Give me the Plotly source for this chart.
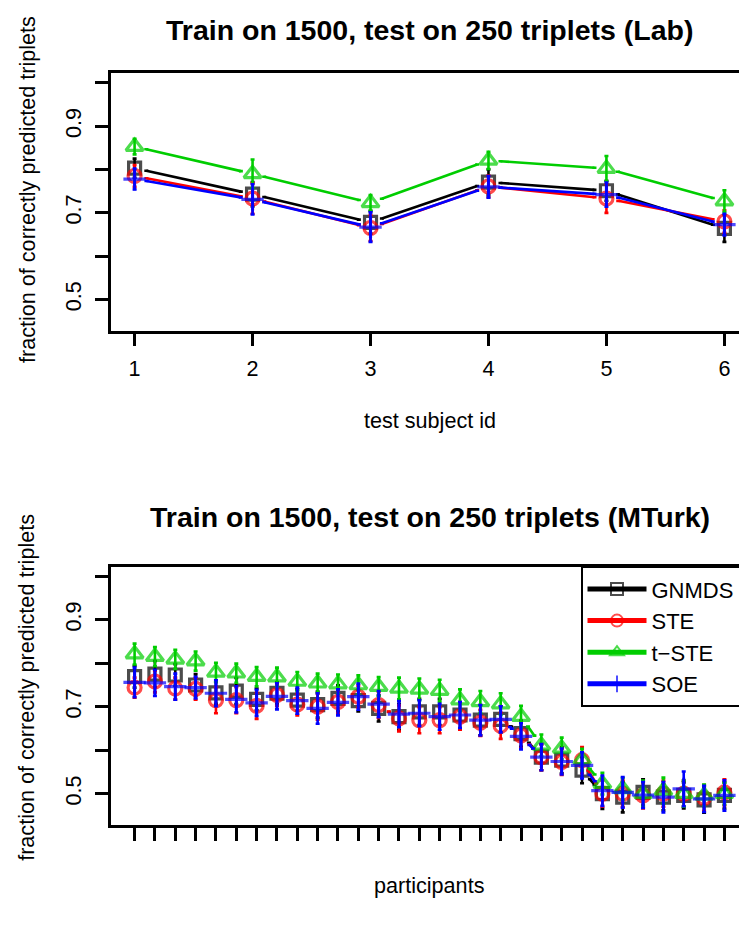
import plotly.graph_objects as go
import math

# ---------------- data ----------------
lab_ids = [1, 2, 3, 4, 5, 6]
lab_gnmds = [0.803, 0.743, 0.678, 0.771, 0.751, 0.664]
lab_ste = [0.785, 0.733, 0.665, 0.761, 0.733, 0.680]
lab_tste = [0.853, 0.790, 0.723, 0.821, 0.802, 0.727]
lab_soe = [0.778, 0.731, 0.667, 0.760, 0.742, 0.673]
lab_gnmds_err = [0.022, 0.028, 0.026, 0.029, 0.023, 0.031]
lab_ste_err = [0.025, 0.035, 0.030, 0.025, 0.033, 0.026]
lab_tste_err = [0.018, 0.033, 0.018, 0.020, 0.029, 0.025]
lab_soe_err = [0.024, 0.035, 0.034, 0.025, 0.028, 0.025]

mt_ids = list(range(1, 31))
mt_gnmds = [0.769, 0.775, 0.773, 0.750, 0.732, 0.736, 0.717, 0.731, 0.715, 0.705,
            0.719, 0.714, 0.696, 0.677, 0.688, 0.688, 0.681, 0.669, 0.671, 0.638,
            0.584, 0.577, 0.554, 0.500, 0.492, 0.503, 0.492, 0.496, 0.486, 0.496]
mt_ste = [0.744, 0.758, 0.742, 0.741, 0.715, 0.715, 0.702, 0.727, 0.705, 0.700,
          0.711, 0.723, 0.704, 0.673, 0.669, 0.669, 0.677, 0.663, 0.656, 0.634,
          0.584, 0.573, 0.577, 0.500, 0.500, 0.496, 0.500, 0.500, 0.490, 0.503]
mt_tste = [0.821, 0.815, 0.809, 0.805, 0.779, 0.777, 0.769, 0.768, 0.758, 0.754,
           0.752, 0.750, 0.746, 0.742, 0.740, 0.737, 0.715, 0.711, 0.706, 0.677,
           0.611, 0.604, 0.578, 0.523, 0.511, 0.500, 0.507, 0.500, 0.496, 0.500]
mt_soe = [0.756, 0.755, 0.746, 0.744, 0.731, 0.717, 0.709, 0.724, 0.714, 0.696,
          0.710, 0.723, 0.706, 0.683, 0.685, 0.677, 0.681, 0.669, 0.671, 0.632,
          0.584, 0.574, 0.565, 0.507, 0.503, 0.497, 0.492, 0.511, 0.488, 0.496]
mt_gnmds_err = [0.025, 0.030, 0.025, 0.025, 0.025, 0.030, 0.025, 0.025, 0.025, 0.030,
                0.030, 0.025, 0.030, 0.030, 0.030, 0.030, 0.030, 0.035, 0.030, 0.030,
                0.030, 0.030, 0.030, 0.035, 0.035, 0.030, 0.030, 0.030, 0.030, 0.030]
mt_ste_err = [0.023, 0.025, 0.025, 0.025, 0.030, 0.030, 0.030, 0.025, 0.025, 0.030,
              0.025, 0.025, 0.030, 0.030, 0.030, 0.030, 0.030, 0.030, 0.030, 0.030,
              0.030, 0.030, 0.030, 0.030, 0.030, 0.030, 0.030, 0.030, 0.030, 0.030]
mt_tste_err = [0.024, 0.022, 0.022, 0.022, 0.022, 0.022, 0.022, 0.022, 0.022, 0.022,
               0.022, 0.022, 0.022, 0.025, 0.025, 0.025, 0.025, 0.025, 0.025, 0.025,
               0.025, 0.025, 0.025, 0.025, 0.025, 0.030, 0.030, 0.030, 0.025, 0.025]
mt_soe_err = [0.034, 0.030, 0.030, 0.025, 0.030, 0.030, 0.030, 0.030, 0.030, 0.035,
              0.030, 0.030, 0.030, 0.030, 0.030, 0.030, 0.030, 0.035, 0.030, 0.030,
              0.030, 0.030, 0.030, 0.035, 0.035, 0.030, 0.035, 0.040, 0.030, 0.035]

series_names = ["GNMDS", "STE", "t\u2212STE", "SOE"]
series_colors = ["#000000", "#FF0000", "#00CD00", "#0000FF"]
series_symbols = ["square-open", "circle-open", "triangle-up-open", "cross-thin-open"]
series_sizes = [12, 13, 15, 16]

y_ticks = [0.5, 0.6, 0.7, 0.8, 0.9, 1.0]
y_tick_text = ["0.5", "", "0.7", "", "0.9", ""]

title_lab = "Train on 1500, test on 250 triplets (Lab)"
title_mt = "Train on 1500, test on 250 triplets (MTurk)"
xlab_lab = "test subject id"
xlab_mt = "participants"
ylab = "fraction of correctly predicted triplets"

# ---------------- geometry (px) ----------------
W, H = 739, 928
XL, XR = 111.0, 748.0           # full plot box (right edge falls outside the page)
TOP1, BOT1 = 73.3, 330.7
TOP2, BOT2 = 566.7, 825.0
YR = [0.428, 1.022]
XR_LAB = [0.8, 6.2]
XR_MT = [-0.16, 31.16]
GAP = 12.0
FONT = "Liberation Sans, Arial, Helvetica, sans-serif"


def visible_range(r):
    lo, hi = r
    return [lo, lo + (hi - lo) * (W - XL) / (XR - XL)]


def gapped(xs, ys, xr, top, bot):
    kx = (XR - XL) / (xr[1] - xr[0])
    ky = (bot - top) / (YR[1] - YR[0])
    gx, gy = [], []
    for i in range(len(xs) - 1):
        dx = (xs[i + 1] - xs[i]) * kx
        dy = (ys[i + 1] - ys[i]) * ky
        d = math.hypot(dx, dy)
        if d > 2 * GAP:
            f = GAP / d
            gx += [xs[i] + (xs[i + 1] - xs[i]) * f, xs[i + 1] - (xs[i + 1] - xs[i]) * f, None]
            gy += [ys[i] + (ys[i + 1] - ys[i]) * f, ys[i + 1] - (ys[i + 1] - ys[i]) * f, None]
    return gx, gy


fig = go.Figure()


def add_panel(xs, ylist, elist, xr, top, bot, xa, ya, legend):
    for k in range(4):
        ys = ylist[k]
        es = elist[k]
        gx, gy = gapped(xs, ys, xr, top, bot)
        tx, ty, sz, er = [], [], [], []
        for i in range(len(xs)):
            tx += [xs[i], None]
            ty += [ys[i], None]
            sz += [series_sizes[k], 0]
            er += [es[i], float("nan")]
        tx += gx
        ty += gy
        sz += [0] * len(gx)
        er += [float("nan")] * len(gx)
        fig.add_trace(go.Scatter(
            x=tx, y=ty, mode="lines+markers", xaxis=xa, yaxis=ya,
            name=series_names[k], showlegend=legend, connectgaps=False,
            line=dict(color=series_colors[k], width=2.6),
            marker=dict(symbol=series_symbols[k], size=sz, color=series_colors[k],
                        line=dict(color=series_colors[k], width=3.2)),
            error_y=dict(type="data", array=er, visible=True, color=series_colors[k],
                         thickness=2.6, width=2),
            hoverinfo="skip",
        ))


add_panel(lab_ids, [lab_gnmds, lab_ste, lab_tste, lab_soe],
          [lab_gnmds_err, lab_ste_err, lab_tste_err, lab_soe_err],
          XR_LAB, TOP1, BOT1, "x", "y", False)
add_panel(mt_ids, [mt_gnmds, mt_ste, mt_tste, mt_soe],
          [mt_gnmds_err, mt_ste_err, mt_tste_err, mt_soe_err],
          XR_MT, TOP2, BOT2, "x2", "y2", True)

axis_common = dict(showgrid=False, zeroline=False, showline=True, linecolor="black",
                   linewidth=2.5, ticks="outside", ticklen=13, tickwidth=2.5,
                   tickcolor="black", tickfont=dict(family=FONT, size=21.6, color="black"))

fig.update_layout(
    width=W, height=H,
    margin=dict(l=0, r=0, t=0, b=0, autoexpand=False),
    paper_bgcolor="white", plot_bgcolor="white",
    font=dict(family=FONT, color="black"),
    xaxis=dict(domain=[XL / W, 1], range=visible_range(XR_LAB), tickvals=lab_ids,
               mirror=True, anchor="y", ticklabelstandoff=4, **axis_common),
    yaxis=dict(domain=[1 - BOT1 / H, 1 - TOP1 / H], range=YR, tickvals=y_ticks,
               ticktext=y_tick_text, tickangle=-90, anchor="x", ticklabelstandoff=6,
               **axis_common),
    xaxis2=dict(domain=[XL / W, 1], range=visible_range(XR_MT), tickvals=mt_ids,
                showticklabels=False, mirror=True, anchor="y2", **axis_common),
    yaxis2=dict(domain=[1 - BOT2 / H, 1 - TOP2 / H], range=YR, tickvals=y_ticks,
                ticktext=y_tick_text, tickangle=-90, anchor="x2", ticklabelstandoff=6,
                **axis_common),
    legend=dict(x=581 / W, y=1 - TOP2 / H, xanchor="left", yanchor="top",
                bgcolor="white", bordercolor="black", borderwidth=1.5,
                font=dict(family=FONT, size=22, color="black"),
                itemsizing="constant", itemwidth=59, tracegroupgap=0),
    showlegend=True,
)

cx = (XL + XR) / 2
ann = [
    dict(text="<b>" + title_lab + "</b>", x=cx / W, y=1 - 30 / H, size=28.5),
    dict(text="<b>" + title_mt + "</b>", x=cx / W, y=1 - 517 / H, size=28.5),
    dict(text=xlab_lab, x=cx / W, y=1 - 420 / H, size=21.6),
    dict(text=xlab_mt, x=cx / W, y=1 - 885 / H, size=21.6),
]
for a in ann:
    fig.add_annotation(text=a["text"], x=a["x"], y=a["y"], xref="paper", yref="paper",
                       xanchor="center", yanchor="middle", showarrow=False,
                       font=dict(family=FONT, size=a["size"], color="black"))
for yc in [(TOP1 + BOT1) / 2 - 12, (TOP2 + BOT2) / 2 - 8]:
    fig.add_annotation(text=ylab, x=27 / W, y=1 - yc / H, xref="paper", yref="paper",
                       xanchor="center", yanchor="middle", textangle=-90, showarrow=False,
                       font=dict(family=FONT, size=21.6, color="black"))

fig.write_html("out.html")
